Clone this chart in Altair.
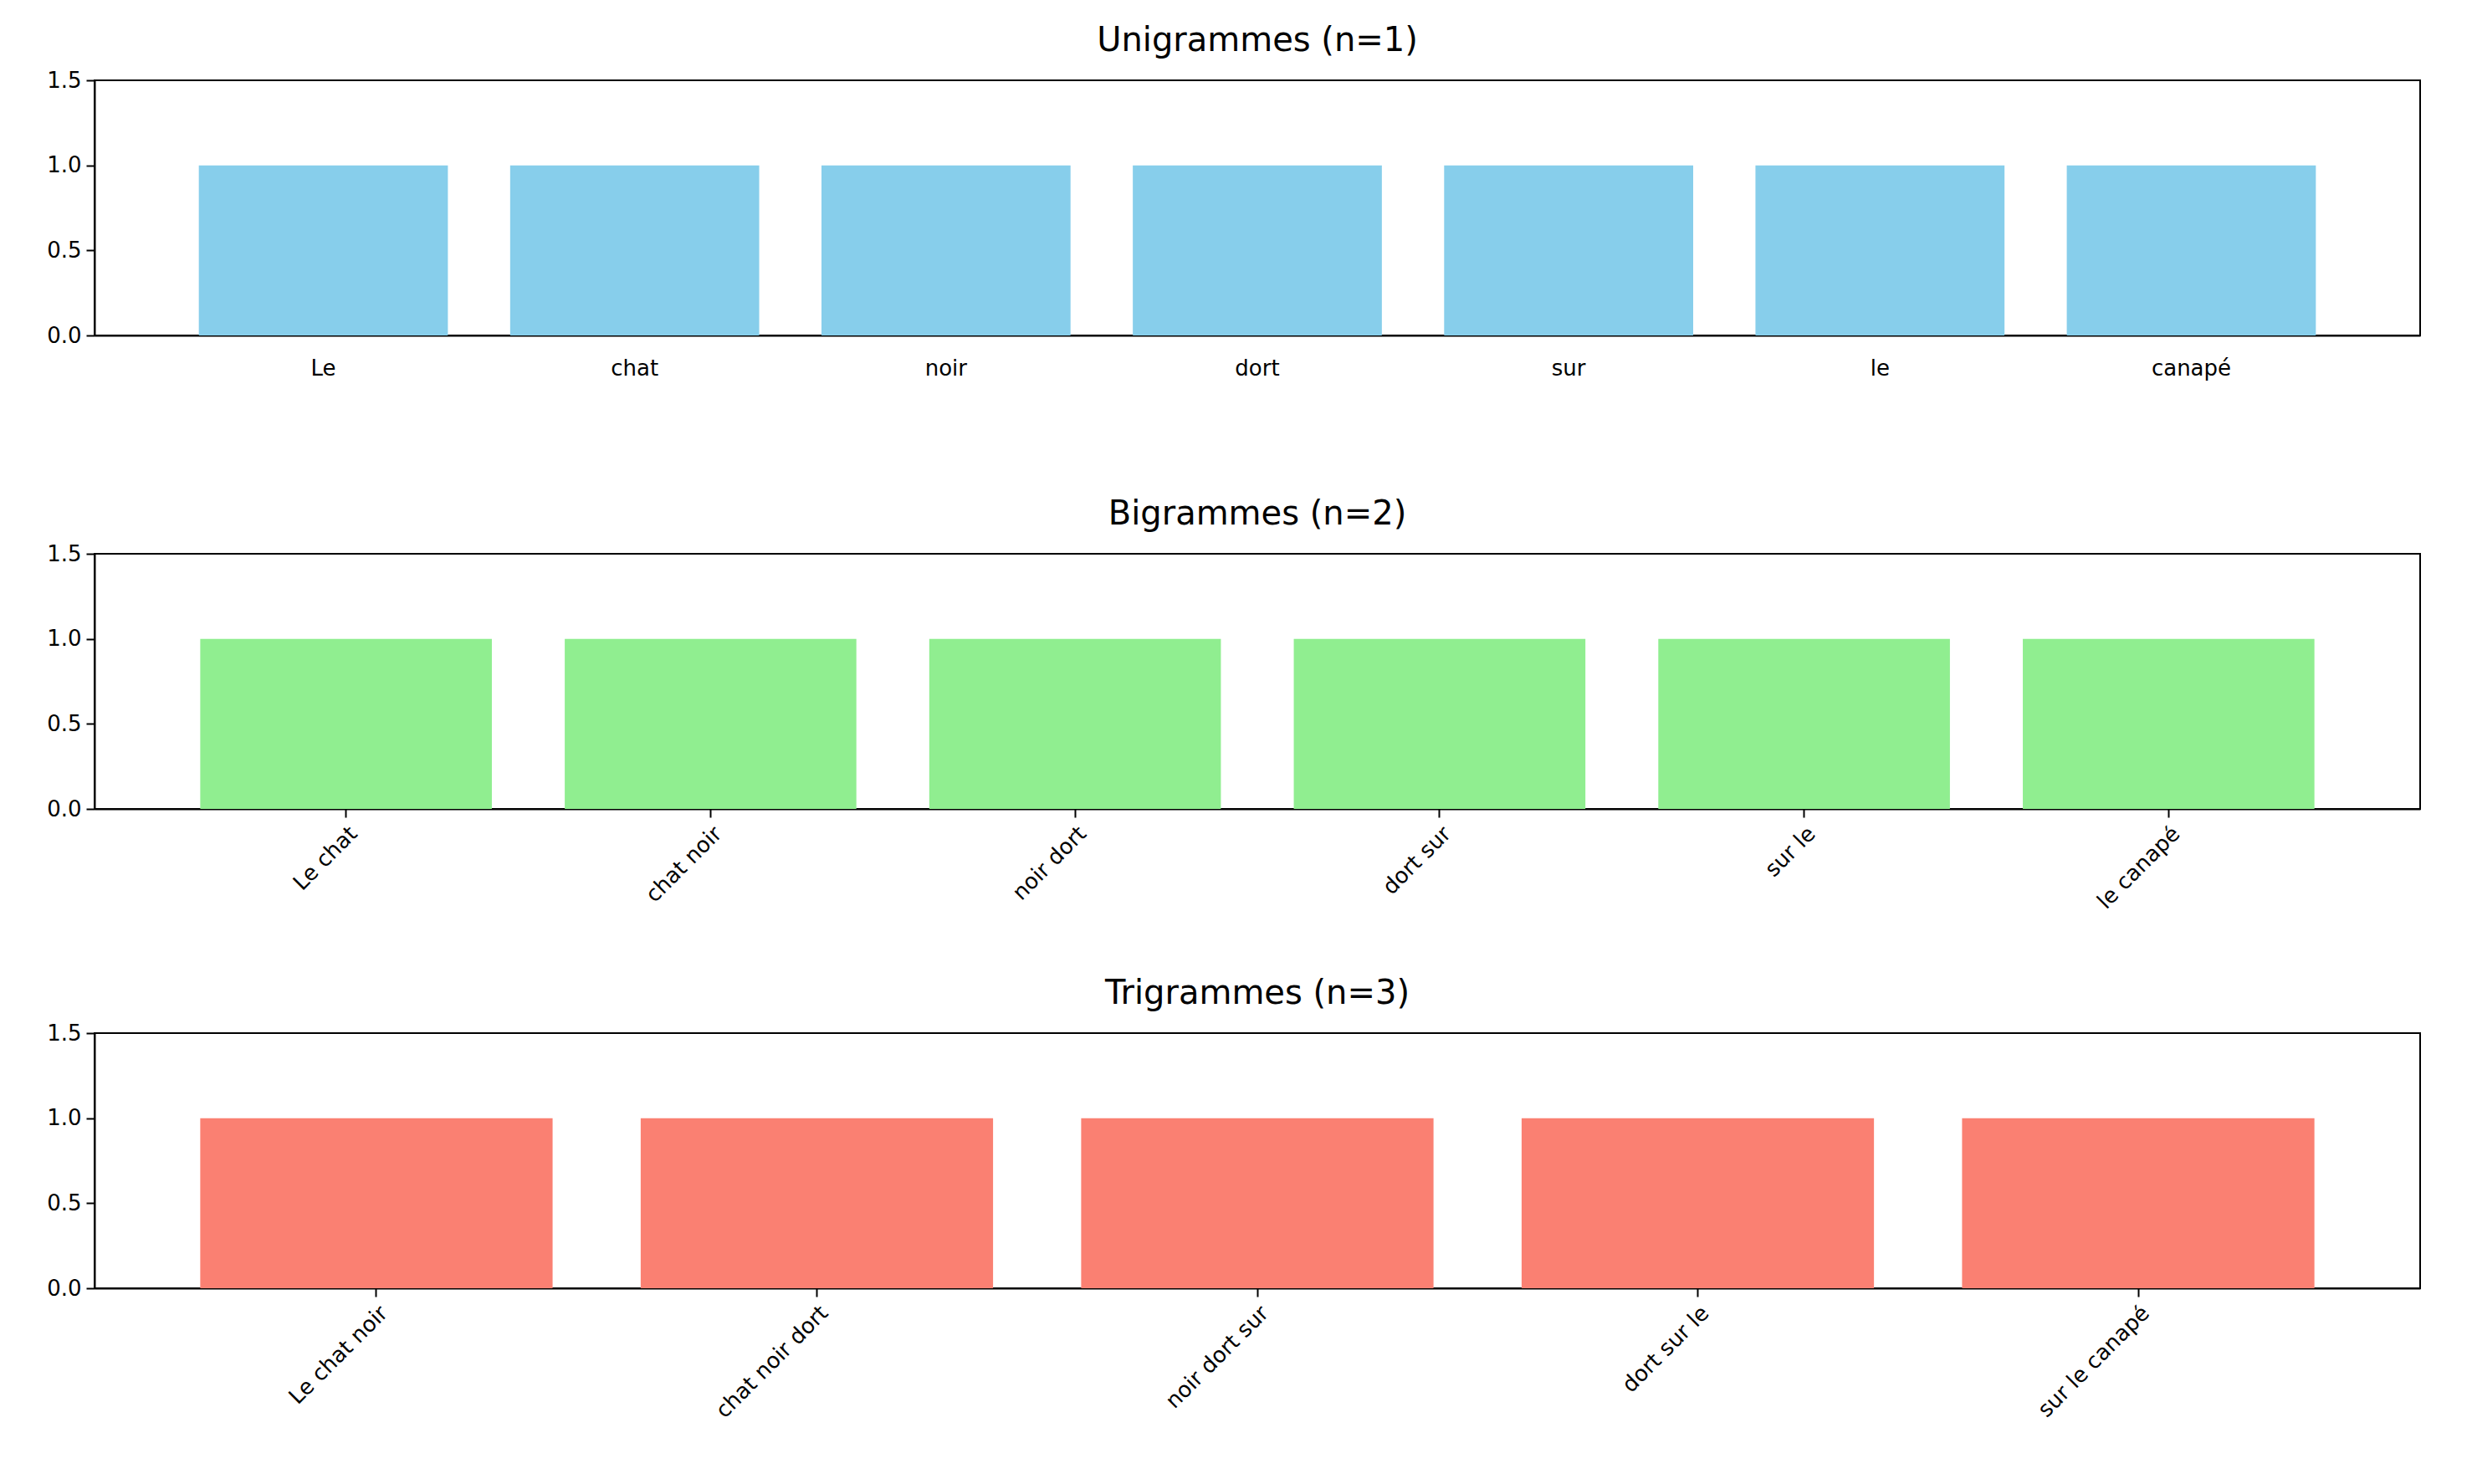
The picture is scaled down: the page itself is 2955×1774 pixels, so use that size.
import altair as alt
import pandas as pd

uni_labels = ["Le", "chat", "noir", "dort", "sur", "le", "canapé"]
uni_counts = [1, 1, 1, 1, 1, 1, 1]
bi_labels = ["Le chat", "chat noir", "noir dort", "dort sur", "sur le", "le canapé"]
bi_counts = [1, 1, 1, 1, 1, 1]
tri_labels = ["Le chat noir", "chat noir dort", "noir dort sur", "dort sur le", "sur le canapé"]
tri_counts = [1, 1, 1, 1, 1]

FONT = "DejaVu Sans"


def panel(labels, counts, color, title, outer, angle, tick):
    df = pd.DataFrame({"ngram": labels, "count": counts})
    if angle:
        xaxis = alt.Axis(title=None, labelAngle=-45, labelAlign="right", labelBaseline="top",
                         tickSize=tick, labelPadding=6)
    else:
        xaxis = alt.Axis(title=None, labelAngle=0, tickSize=tick, labelPadding=26)
    return (
        alt.Chart(df)
        .mark_bar(color=color)
        .encode(
            x=alt.X("ngram:N", sort=labels, axis=xaxis,
                    scale=alt.Scale(paddingInner=0.2, paddingOuter=outer)),
            y=alt.Y("count:Q", scale=alt.Scale(domain=[0, 1.5]),
                    axis=alt.Axis(title=None, values=[0, 0.5, 1.0, 1.5], format=".1f")),
        )
        .properties(
            width=2780, height=305,
            title=alt.TitleParams(title, fontSize=40, font=FONT, fontWeight="normal", offset=14),
        )
    )


top = alt.vconcat(
    panel(uni_labels, uni_counts, "#87CEEB", "Unigrammes (n=1)", 0.335, False, 0),
    panel(bi_labels, bi_counts, "#90EE90", "Bigrammes (n=2)", 0.29, True, 10),
    spacing=140,
)

chart = (
    alt.vconcat(
        top,
        panel(tri_labels, tri_counts, "#FA8072", "Trigrammes (n=3)", 0.24, True, 10),
        spacing=75,
    )
    .configure_view(stroke="black", strokeWidth=2)
    .configure_axis(
        labelFont=FONT, labelFontSize=26, labelColor="black", domainColor="black",
        tickColor="black", grid=False, domainWidth=2, tickWidth=2,
    )
    .configure_axisY(tickSize=10, labelPadding=6)
    .properties(background="white", padding={"left": 46, "top": 20, "right": 20, "bottom": 10})
)

chart.save("out.html", embed_options={"renderer": "svg", "actions": False})
